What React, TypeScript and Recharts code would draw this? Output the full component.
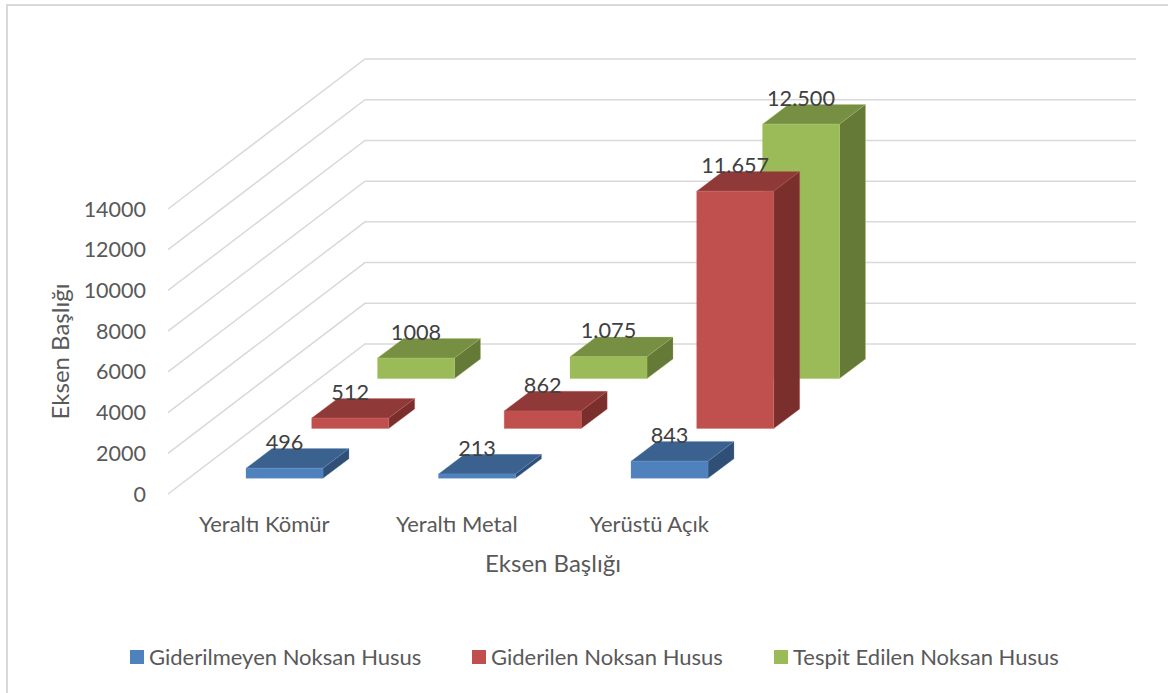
import React from "react";
import { BarChart, Bar, XAxis, YAxis, ReferenceLine, LabelList, Legend } from "recharts";

const categories = ["Yeraltı Kömür", "Yeraltı Metal", "Yerüstü Açık", ""];
const giderilmeyen = [496, 213, 843, null];
const giderilen = [512, 862, 11657, null];
const tespitEdilen = [1008, 1075, 12500, null];
const giderilmeyenLabels = ["496", "213", "843", ""];
const giderilenLabels = ["512", "862", "11.657", ""];
const tespitLabels = ["1008", "1.075", "12.500", ""];
const yTicks = [0, 2000, 4000, 6000, 8000, 10000, 12000, 14000];

const NAME_BLUE = "Giderilmeyen Noksan Husus";
const NAME_RED = "Giderilen Noksan Husus";
const NAME_GREEN = "Tespit Edilen Noksan Husus";
const AXIS_TITLE = "Eksen Başlığı";

const FONT = "Lato";
const GREY = "#595959";

const data = categories.map((name, i) => ({
  name,
  blue: giderilmeyen[i],
  red: giderilen[i],
  green: tespitEdilen[i],
  blueLabel: giderilmeyenLabels[i],
  redLabel: giderilenLabels[i],
  greenLabel: tespitLabels[i],
}));

const DEPTH_X = 26;
const DEPTH_Y = 19.6;

function bar3d(dx: number, dy: number, front: string, top: string, side: string, edge: string) {
  return (p: any) => {
    if (p.value == null || !p.height) return <g />;
    const x = p.x + dx;
    const y = p.y + dy;
    const w = p.width;
    const h = p.height;
    const common = { stroke: edge, strokeWidth: 0.5, strokeOpacity: 0.6, strokeLinejoin: "round" as const };
    return (
      <g>
        <polygon
          points={`${x},${y} ${x + DEPTH_X},${y - DEPTH_Y} ${x + w + DEPTH_X},${y - DEPTH_Y} ${x + w},${y}`}
          fill={top}
          {...common}
        />
        <polygon
          points={`${x + w},${y} ${x + w + DEPTH_X},${y - DEPTH_Y} ${x + w + DEPTH_X},${y + h - DEPTH_Y} ${x + w},${y + h}`}
          fill={side}
          {...common}
        />
        <rect x={x} y={y} width={w} height={h} fill={front} {...common} />
      </g>
    );
  };
}

function valueLabel(dx: number, dy: number) {
  return (p: any) => {
    if (!p.value) return <g />;
    return (
      <text
        x={p.x + p.width / 2 + dx}
        y={p.y + dy - 18.3}
        textAnchor="middle"
        fontFamily={FONT}
        fontSize={21.7}
        fill="#404040"
      >
        {p.value}
      </text>
    );
  };
}

const gridLine = (p: any) => (
  <polyline
    points={`${p.x1},${p.y1} ${p.x1 + 197},${p.y1 - 150} ${p.x2 + 198},${p.y1 - 150}`}
    fill="none"
    stroke="#d9d9d9"
    strokeWidth={1.5}
  />
);

const legendColors: Record<string, string> = {
  [NAME_BLUE]: "#4F81BD",
  [NAME_RED]: "#C0504D",
  [NAME_GREEN]: "#9BBB59",
};
const legendOrder = [NAME_BLUE, NAME_RED, NAME_GREEN];
const legendWidths = [342, 302, 320];

const renderLegend = () => (
  <div style={{ display: "flex", paddingLeft: 130, fontFamily: FONT, fontSize: 22, color: GREY, lineHeight: "34px" }}>
    {legendOrder.map((name, i) => (
      <div key={name} style={{ width: legendWidths[i], display: "flex", alignItems: "center", whiteSpace: "nowrap" }}>
        <span style={{ width: 14, height: 14, background: legendColors[name], marginRight: 5, display: "inline-block" }} />
        {name}
      </div>
    ))}
  </div>
);

export default function App() {
  return (
    <div style={{ position: "absolute", left: 0, top: 0, width: 1168, height: 693, overflow: "hidden", background: "#fff" }}>
      <div
        style={{
          position: "absolute",
          left: 6,
          top: 4,
          width: 1162,
          height: 689,
          boxSizing: "border-box",
          borderLeft: "2px solid #d9d9d9",
          borderTop: "2px solid #d9d9d9",
        }}
      />
      <div style={{ position: "absolute", left: 0, top: 0 }}>
        <BarChart
          width={1168}
          height={693}
          data={data}
          barSize={77}
          barGap={-77}
          barCategoryGap={0}
          margin={{ left: 78, top: 209, right: 230, bottom: 99 }}
        >
          {yTicks.map((v) => (
            <ReferenceLine key={v} y={v} shape={gridLine} zIndex={100} />
          ))}
          <XAxis
            dataKey="name"
            interval={0}
            height={100}
            axisLine={false}
            tickLine={false}
            tickMargin={16}
            tick={{ fontFamily: FONT, fontSize: 22, fill: GREY }}
            label={{
              value: AXIS_TITLE,
              position: "insideBottom",
              offset: 22,
              style: { fontFamily: FONT, fontSize: 24, fill: GREY },
            }}
          />
          <YAxis
            domain={[0, 14000]}
            ticks={yTicks}
            width={90}
            axisLine={false}
            tickLine={false}
            tickMargin={16}
            tick={{ fontFamily: FONT, fontSize: 21.5, fill: GREY }}
            label={{
              value: AXIS_TITLE,
              angle: -90,
              position: "insideLeft",
              offset: -18,
              style: { fontFamily: FONT, fontSize: 24, fill: GREY, textAnchor: "middle" },
            }}
          />
          <Legend verticalAlign="middle" layout="horizontal" wrapperStyle={{ top: 640, left: 0, width: 1168 }} content={renderLegend} />
          <Bar dataKey="green" name={NAME_GREEN} fill="#9BBB59" isAnimationActive={false} shape={bar3d(151.5, -115.4, "#9BBB59", "#768F42", "#647A36", "#A9C76F")}>
            <LabelList dataKey="greenLabel" content={valueLabel(151.5, -115.4)} />
          </Bar>
          <Bar dataKey="red" name={NAME_RED} fill="#C0504D" isAnimationActive={false} shape={bar3d(85.7, -65.5, "#C0504D", "#8F3A38", "#7B2F2D", "#C9625F")}>
            <LabelList dataKey="redLabel" content={valueLabel(85.7, -65.5)} />
          </Bar>
          <Bar dataKey="blue" name={NAME_BLUE} fill="#4F81BD" isAnimationActive={false} shape={bar3d(20, -15.7, "#4F81BD", "#3B618F", "#2F4F76", "#6A95C9")}>
            <LabelList dataKey="blueLabel" content={valueLabel(20, -15.7)} />
          </Bar>
        </BarChart>
      </div>
    </div>
  );
}
